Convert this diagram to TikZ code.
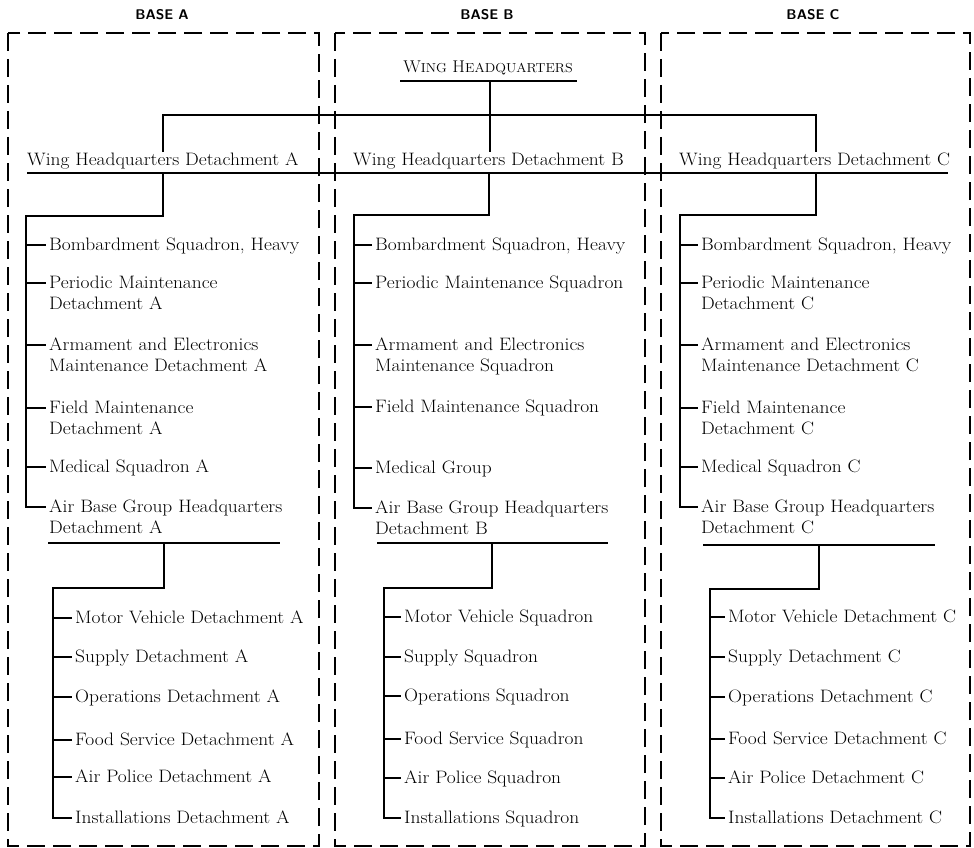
\documentclass[tikz,border=0pt]{standalone}
\usepackage{fontspec}
\setmainfont{Latin Modern Roman}[FakeStretch=1.08]
\usetikzlibrary{calc}
\newcommand\twoline[2]{\begin{tabular}[t]{@{}l@{}}#1\\#2\end{tabular}}
\newcommand\fsc[1]{{\fontsize{13}{21}\selectfont #1}}
\begin{document}
\begin{tikzpicture}[x=1pt,y=-1pt,
  basebox/.style={draw,line width=1.4pt,dash pattern=on 18pt off 8pt},
  conn/.style={draw,line width=1.8pt},
  rule/.style={draw,line width=1.6pt},
  lbl/.style={inner sep=0pt,anchor=base west,font=\fontsize{18}{21}\selectfont},
  hdr/.style={inner sep=0pt,anchor=base,font=\sffamily\bfseries\fontsize{14}{16}\selectfont}]
\useasboundingbox (0,0) rectangle (974,848);
\newcommand\tk[2]{\coordinate (#2t) at ($(#2.base west)+(-3,-5)$); \draw[conn] (#1 |- #2t) -- (#2t);}
% headers
\node[hdr] (hA) at (162,20) {BASE A};
\node[hdr] (hB) at (487,20) {BASE B};
\node[hdr] (hC) at (813,20) {BASE C};
% dashed base boxes
\draw[basebox] (8,33) rectangle (319,846);
\draw[basebox] (335,33) rectangle (645,846);
\draw[basebox] (661,33) rectangle (970,846);
% wing headquarters
\node[inner sep=0pt,anchor=base,font=\fontsize{17}{21}\selectfont] (wh) at (488,73) {W\fsc{ING} H\fsc{EADQUARTERS}};
\draw[rule] (400,81) -- (577,81);
% detachments
\node[lbl] (dA) at (27,165) {Wing Headquarters Detachment A};
\node[lbl] (dB) at (353,165) {Wing Headquarters Detachment B};
\node[lbl] (dC) at (679,165) {Wing Headquarters Detachment C};
\draw[rule] (27,173) -- (948,173);
\coordinate (bus) at (490,115);
\draw[conn] (490,81) -- (dB.north -| bus);
\draw[conn] (dA.north -| 163,0) -- (163,115) -- (816,115) -- (dC.north -| 816,0);
% ---------- column A ----------
\node[lbl] (a1) at (49,250) {Bombardment Squadron, Heavy};
\node[lbl] (a2) at (49,288) {\twoline{Periodic Maintenance}{Detachment A}};
\node[lbl] (a3) at (49,350) {\twoline{Armament and Electronics}{Maintenance Detachment A}};
\node[lbl] (a4) at (49,413) {\twoline{Field Maintenance}{Detachment A}};
\node[lbl] (a5) at (49,472) {Medical Squadron A};
\node[lbl] (a6) at (49,512) {\twoline{Air Base Group Headquarters}{Detachment A}};
\coordinate (kA) at (26,216);
\coordinate (a6t) at ($(a6.base west)+(-3,-5)$);
\draw[conn] (163,173) -- (163,216) -- (kA) |- (a6t);
\foreach \n in {a1,a2,a3,a4,a5} {\tk{kA}{\n}}
\draw[rule] (48,543) -- (280,543);
\node[lbl] (s1) at (75,623) {Motor Vehicle Detachment A};
\node[lbl] (s2) at (75,662) {Supply Detachment A};
\node[lbl] (s3) at (75,702) {Operations Detachment A};
\node[lbl] (s4) at (75,745) {Food Service Detachment A};
\node[lbl] (s5) at (75,782) {Air Police Detachment A};
\node[lbl] (s6) at (75,823) {Installations Detachment A};
\coordinate (mA) at (53,588);
\coordinate (s6t) at ($(s6.base west)+(-3,-5)$);
\draw[conn] (164,543) -- (164,588) -- (mA) |- (s6t);
\foreach \n in {s1,s2,s3,s4,s5} {\tk{mA}{\n}}
% ---------- column B ----------
\node[lbl] (b1) at (375,250) {Bombardment Squadron, Heavy};
\node[lbl] (b2) at (375,288) {Periodic Maintenance Squadron};
\node[lbl] (b3) at (375,350) {\twoline{Armament and Electronics}{Maintenance Squadron}};
\node[lbl] (b4) at (375,412) {Field Maintenance Squadron};
\node[lbl] (b5) at (375,473) {Medical Group};
\node[lbl] (b6) at (375,513) {\twoline{Air Base Group Headquarters}{Detachment B}};
\coordinate (kB) at (354,215);
\coordinate (b6t) at ($(b6.base west)+(-3,-5)$);
\draw[conn] (489,173) -- (489,215) -- (kB) |- (b6t);
\foreach \n in {b1,b2,b3,b4,b5} {\tk{kB}{\n}}
\draw[rule] (377,543) -- (608,543);
\node[lbl] (u1) at (404,622) {Motor Vehicle Squadron};
\node[lbl] (u2) at (404,662) {Supply Squadron};
\node[lbl] (u3) at (404,701) {Operations Squadron};
\node[lbl] (u4) at (404,744) {Food Service Squadron};
\node[lbl] (u5) at (404,783) {Air Police Squadron};
\node[lbl] (u6) at (404,823) {Installations Squadron};
\coordinate (mB) at (384,588);
\coordinate (u6t) at ($(u6.base west)+(-3,-5)$);
\draw[conn] (492,543) -- (492,588) -- (mB) |- (u6t);
\foreach \n in {u1,u2,u3,u4,u5} {\tk{mB}{\n}}
% ---------- column C ----------
\node[lbl] (c1) at (701,250) {Bombardment Squadron, Heavy};
\node[lbl] (c2) at (701,288) {\twoline{Periodic Maintenance}{Detachment C}};
\node[lbl] (c3) at (701,350) {\twoline{Armament and Electronics}{Maintenance Detachment C}};
\node[lbl] (c4) at (701,413) {\twoline{Field Maintenance}{Detachment C}};
\node[lbl] (c5) at (701,472) {Medical Squadron C};
\node[lbl] (c6) at (701,512) {\twoline{Air Base Group Headquarters}{Detachment C}};
\coordinate (kC) at (680,215);
\coordinate (c6t) at ($(c6.base west)+(-3,-5)$);
\draw[conn] (816,173) -- (816,215) -- (kC) |- (c6t);
\foreach \n in {c1,c2,c3,c4,c5} {\tk{kC}{\n}}
\draw[rule] (703,545) -- (935,545);
\node[lbl] (v1) at (728,622) {Motor Vehicle Detachment C};
\node[lbl] (v2) at (728,662) {Supply Detachment C};
\node[lbl] (v3) at (728,702) {Operations Detachment C};
\node[lbl] (v4) at (728,744) {Food Service Detachment C};
\node[lbl] (v5) at (728,783) {Air Police Detachment C};
\node[lbl] (v6) at (728,823) {Installations Detachment C};
\coordinate (mC) at (710,589);
\coordinate (v6t) at ($(v6.base west)+(-3,-5)$);
\draw[conn] (819,545) -- (819,589) -- (mC) |- (v6t);
\foreach \n in {v1,v2,v3,v4,v5} {\tk{mC}{\n}}
\end{tikzpicture}
\end{document}
